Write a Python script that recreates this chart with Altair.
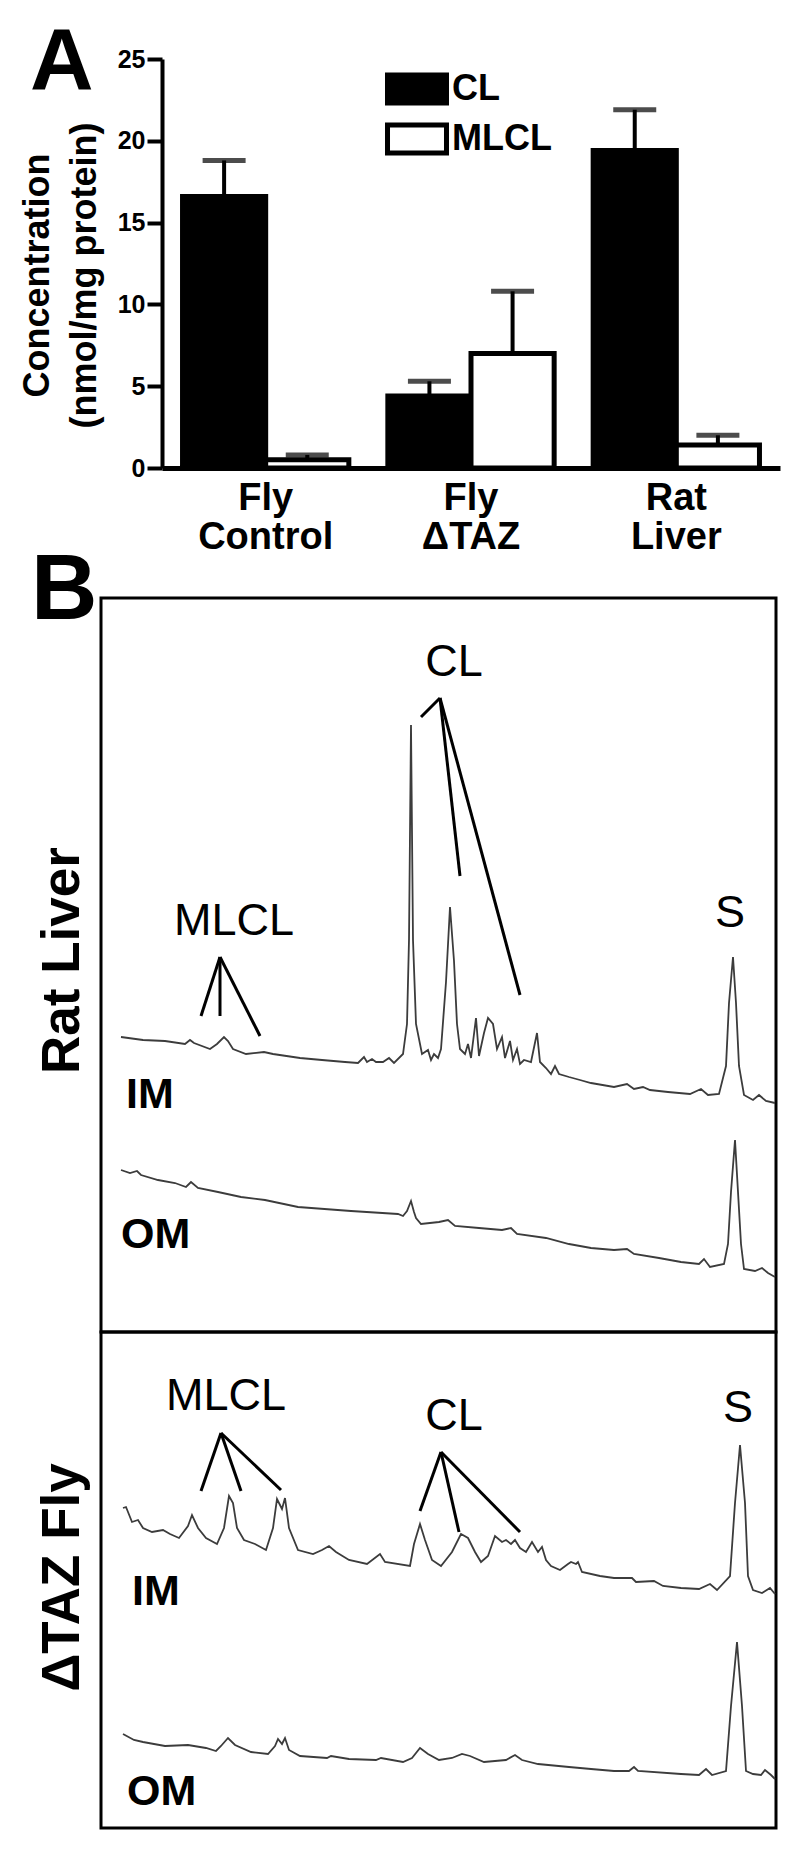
import altair as alt
import pandas as pd

FONT = "Liberation Sans"

# ---------------- Panel A data ----------------
groups = ["Fly|Control", "Fly|ΔTAZ", "Rat|Liver"]
series = ["CL", "MLCL"]
cl_mean = [16.6, 4.4, 19.4]
cl_err_top = [18.8, 5.3, 21.9]
mlcl_mean = [0.5, 7.0, 1.4]
mlcl_err_top = [0.8, 10.8, 2.0]
y_ticks = [0, 5, 10, 15, 20, 25]

# ---------------- Panel B data (retention position, signal; arbitrary units) ----------------
rat_im_x = [20, 42, 64, 84, 89, 93, 109, 116, 123, 127, 132, 145, 163, 172, 199, 221, 244, 257, 263, 266,
            271, 275, 282, 288, 293, 302, 306, 308, 310, 312, 315, 321, 327, 330, 333, 337, 340, 345, 349, 353,
            356, 359, 364, 367, 370, 375, 378, 383, 387, 392, 396, 401, 404, 409, 412, 416, 419, 423, 430, 436,
            439, 445, 450, 454, 458, 468, 479, 490, 513, 526, 533, 542, 549, 567, 589, 600, 607, 618, 625, 628,
            632, 635, 638, 643, 652, 658, 665, 674]
rat_im_y = [295, 292, 291, 288, 292, 289, 283, 288, 295, 291, 283, 278, 280, 278, 274, 272, 270, 269, 275, 270,
            273, 270, 270, 274, 269, 278, 308, 392, 607, 392, 308, 278, 282, 272, 278, 274, 283, 350, 425, 371,
            308, 283, 278, 288, 274, 314, 276, 299, 314, 308, 283, 295, 274, 291, 272, 283, 268, 272, 270, 299,
            270, 264, 258, 266, 258, 255, 252, 249, 245, 248, 243, 245, 242, 240, 238, 243, 237, 238, 266, 329,
            375, 329, 266, 237, 232, 237, 231, 229]
rat_om_x = [20, 29, 36, 40, 57, 74, 85, 90, 97, 117, 140, 164, 197, 250, 297, 302, 306, 310, 313, 315,
            320, 338, 347, 354, 378, 401, 410, 416, 445, 468, 490, 513, 526, 533, 558, 580, 598, 603, 609, 623,
            627, 630, 634, 637, 640, 643, 654, 661, 667, 674]
rat_om_y = [162, 159, 161, 157, 152, 149, 145, 150, 144, 140, 135, 132, 125, 121, 118, 116, 121, 131, 120, 114,
            108, 110, 112, 106, 104, 102, 104, 98, 94, 88, 84, 82, 83, 78, 74, 70, 68, 73, 65, 68,
            88, 140, 192, 140, 88, 63, 61, 64, 59, 55]
taz_im_x = [22, 25, 31, 37, 42, 51, 62, 69, 78, 87, 91, 97, 105, 116, 123, 128, 132, 136, 143, 154,
            165, 172, 176, 181, 184, 188, 197, 212, 221, 228, 235, 248, 266, 279, 284, 309, 313, 319, 324, 331,
            340, 351, 360, 367, 374, 380, 387, 394, 401, 405, 410, 414, 419, 425, 431, 437, 441, 445, 450, 459,
            467, 470, 475, 477, 481, 499, 513, 531, 535, 553, 562, 580, 598, 609, 616, 629, 634, 639, 644, 647,
            652, 661, 669, 674]
taz_im_y = [320, 321, 306, 308, 300, 296, 298, 294, 290, 302, 313, 300, 290, 284, 300, 332, 325, 300, 288, 284,
            278, 300, 329, 319, 330, 300, 278, 274, 278, 282, 276, 268, 264, 274, 266, 262, 284, 304, 288, 268,
            262, 276, 294, 290, 276, 266, 272, 292, 286, 288, 284, 288, 280, 276, 286, 276, 281, 268, 262, 258,
            264, 266, 264, 266, 256, 252, 250, 250, 246, 247, 242, 240, 239, 244, 238, 252, 325, 383, 325, 252,
            238, 235, 240, 234]
taz_om_x = [22, 33, 42, 64, 87, 105, 115, 120, 127, 134, 150, 167, 174, 177, 181, 184, 188, 199, 226, 230,
            248, 275, 280, 302, 311, 319, 327, 338, 351, 361, 369, 383, 405, 414, 421, 437, 468, 490, 513, 528,
            533, 537, 580, 598, 605, 611, 625, 630, 636, 641, 645, 652, 660, 664, 670, 674]
taz_om_y = [94, 88, 86, 82, 83, 80, 77, 82, 90, 83, 76, 74, 82, 89, 84, 90, 78, 72, 70, 72,
            69, 68, 70, 66, 70, 80, 74, 68, 70, 74, 72, 66, 68, 73, 68, 64, 61, 59, 57, 57,
            61, 57, 54, 53, 59, 53, 57, 122, 186, 122, 57, 54, 53, 58, 53, 49]

# annotation pointer lines (start = apex, end = peak)
rat_lines_x1 = [339, 339, 339, 119, 119, 119]
rat_lines_y1 = [634, 634, 634, 375, 375, 375]
rat_lines_x2 = [320, 359, 419, 100, 119, 159]
rat_lines_y2 = [615, 456, 337, 316, 316, 296]
taz_lines_x1 = [120, 120, 120, 340, 340, 340]
taz_lines_y1 = [395, 395, 395, 376, 376, 376]
taz_lines_x2 = [100, 140, 180, 319, 358, 419]
taz_lines_y2 = [337, 337, 338, 317, 296, 296]

# annotation labels
rat_lab = ["CL", "MLCL", "S"]
rat_lab_x = [353, 133, 629]
rat_lab_y = [656, 397, 405]
taz_lab = ["MLCL", "CL", "S"]
taz_lab_x = [125, 353, 637]
taz_lab_y = [418, 398, 406]
rat_mem = ["IM", "OM"]
rat_mem_x = [25, 20]
rat_mem_y = [224, 84]
taz_mem = ["IM", "OM"]
taz_mem_x = [31, 26]
taz_mem_y = [223, 23]

# ---------------- Panel A ----------------
bars_df = pd.DataFrame({
    "group": groups * 2,
    "series": ["CL"] * 3 + ["MLCL"] * 3,
    "value": cl_mean + mlcl_mean,
    "err": cl_err_top + mlcl_err_top,
})

x_enc = alt.X(
    "group:N", sort=groups,
    scale=alt.Scale(range=[61, 679], paddingInner=0.19, paddingOuter=0.1),
    axis=alt.Axis(title=None, labelExpr="split(datum.value, '|')", ticks=False,
                  domainWidth=5, domainColor="black", labelFont=FONT, labelFontWeight="bold",
                  labelFontSize=38, labelLineHeight=39, labelPadding=11, labelColor="black",
                  labelAngle=0, labelBaseline="top"),
)
xo_enc = alt.XOffset("series:N", sort=series, scale=alt.Scale(paddingInner=0, paddingOuter=0))
y_scale = alt.Scale(domain=[0, 25], nice=False, zero=True)

base = alt.Chart(bars_df)
bars = base.mark_bar(stroke="black", strokeWidth=5).encode(
    x=x_enc, xOffset=xo_enc,
    y=alt.Y("value:Q", scale=y_scale,
            axis=alt.Axis(values=y_ticks, offset=-61, tickSize=15, tickWidth=4, tickColor="black",
                          domainWidth=4, domainColor="black", labelFont=FONT, labelFontWeight="bold",
                          labelFontSize=25, labelColor="black", labelPadding=2, grid=False,
                          title=["Concentration", "(nmol/mg protein)"], titleX=-114, titleY=216,
                          titleAngle=270, titleBaseline="alphabetic", titleAlign="center",
                          titleFont=FONT, titleFontSize=36, titleFontWeight="bold",
                          titleLineHeight=47, titleColor="black")),
    fill=alt.Fill("series:N", sort=series,
                  scale=alt.Scale(domain=series, range=["black", "white"]),
                  legend=alt.Legend(title=None, orient="none", legendX=298, legendY=12,
                                    symbolType="M-2,-0.95H2V0.95H-2Z", symbolSize=870,
                                    symbolStrokeColor="black", symbolStrokeWidth=5,
                                    symbolOpacity=1, labelFont=FONT, labelFontWeight="bold",
                                    labelFontSize=36, labelColor="black", labelOffset=17,
                                    rowPadding=0)),
)
rules = base.mark_rule(color="black", strokeWidth=4).encode(
    x=x_enc, xOffset=xo_enc, y=alt.Y("value:Q", scale=y_scale), y2="err:Q")
caps = base.mark_tick(color="black", thickness=5, size=43, orient="horizontal").encode(
    x=x_enc, xOffset=xo_enc, y=alt.Y("err:Q", scale=y_scale))

panelA = alt.layer(bars, rules, caps).properties(
    width=679, height=409,
    title=alt.TitleParams("A", anchor="start", frame="group", dx=-71, dy=130, offset=0,
                          baseline="alphabetic", fontSize=88, font=FONT, fontWeight="bold",
                          color="black"),
)

# ---------------- Panel B ----------------
def trace_panel(name, letter, height, ymid, im_x, im_y, om_x, om_y,
                lx1, ly1, lx2, ly2, lab, lab_x, lab_y, mem, mem_x, mem_y):
    xs = alt.Scale(domain=[0, 675], nice=False, zero=False)
    ys = alt.Scale(domain=[0, height], nice=False, zero=False)
    y_axis = alt.Axis(title=name, domain=False, ticks=False, labels=False, grid=False,
                      titleX=-23, titleY=ymid, titleAngle=270, titleBaseline="alphabetic",
                      titleAlign="center", titleFont=FONT, titleFontSize=53,
                      titleFontWeight="bold", titleColor="black")
    tr = pd.DataFrame({"t": im_x + om_x, "s": im_y + om_y,
                       "trace": ["IM"] * len(im_x) + ["OM"] * len(om_x)})
    lines = alt.Chart(tr).mark_line(color="#3c3c3c", strokeWidth=1.8).encode(
        x=alt.X("t:Q", scale=xs, axis=None),
        y=alt.Y("s:Q", scale=ys, axis=y_axis),
        detail="trace:N",
    )
    ann = pd.DataFrame({"x1": lx1, "y1": ly1, "x2": lx2, "y2": ly2})
    pointers = alt.Chart(ann).mark_rule(color="black", strokeWidth=3).encode(
        x=alt.X("x1:Q", scale=xs, axis=None), y=alt.Y("y1:Q", scale=ys, axis=y_axis),
        x2="x2:Q", y2="y2:Q")
    labs = pd.DataFrame({"x": lab_x, "y": lab_y, "label": lab})
    texts = alt.Chart(labs).mark_text(font=FONT, fontSize=45, align="center",
                                      baseline="alphabetic", color="black").encode(
        x=alt.X("x:Q", scale=xs, axis=None), y=alt.Y("y:Q", scale=ys, axis=y_axis),
        text="label:N")
    mems = pd.DataFrame({"x": mem_x, "y": mem_y, "label": mem})
    memt = alt.Chart(mems).mark_text(font=FONT, fontSize=43, fontWeight="bold", align="left",
                                     baseline="alphabetic", color="black").encode(
        x=alt.X("x:Q", scale=xs, axis=None), y=alt.Y("y:Q", scale=ys, axis=y_axis),
        text="label:N")
    props = dict(width=675, height=height,
                 view=alt.ViewBackground(stroke="black", strokeWidth=3))
    if letter:
        props["title"] = alt.TitleParams(letter, anchor="start", frame="group", dx=-70, dy=113,
                                         offset=0, baseline="alphabetic", fontSize=92, font=FONT,
                                         fontWeight="bold", color="black")
    return alt.layer(lines, pointers, texts, memt).properties(**props)


rat = trace_panel("Rat Liver", "B", 734, 362, rat_im_x, rat_im_y, rat_om_x, rat_om_y,
                  rat_lines_x1, rat_lines_y1, rat_lines_x2, rat_lines_y2,
                  rat_lab, rat_lab_x, rat_lab_y, rat_mem, rat_mem_x, rat_mem_y)
taz = trace_panel("ΔTAZ Fly", None, 496, 245, taz_im_x, taz_im_y, taz_om_x, taz_om_y,
                  taz_lines_x1, taz_lines_y1, taz_lines_x2, taz_lines_y2,
                  taz_lab, taz_lab_x, taz_lab_y, taz_mem, taz_mem_x, taz_mem_y)

panelB = alt.vconcat(rat, taz, spacing=0, bounds="flush")

chart = alt.vconcat(panelA, panelB, spacing=130, bounds="flush").properties(
    padding={"left": 10, "top": 10, "right": 5, "bottom": 5},
    background="white",
).configure_view(stroke="transparent")

chart.save("out.html", embed_options={"renderer": "svg", "actions": False})
